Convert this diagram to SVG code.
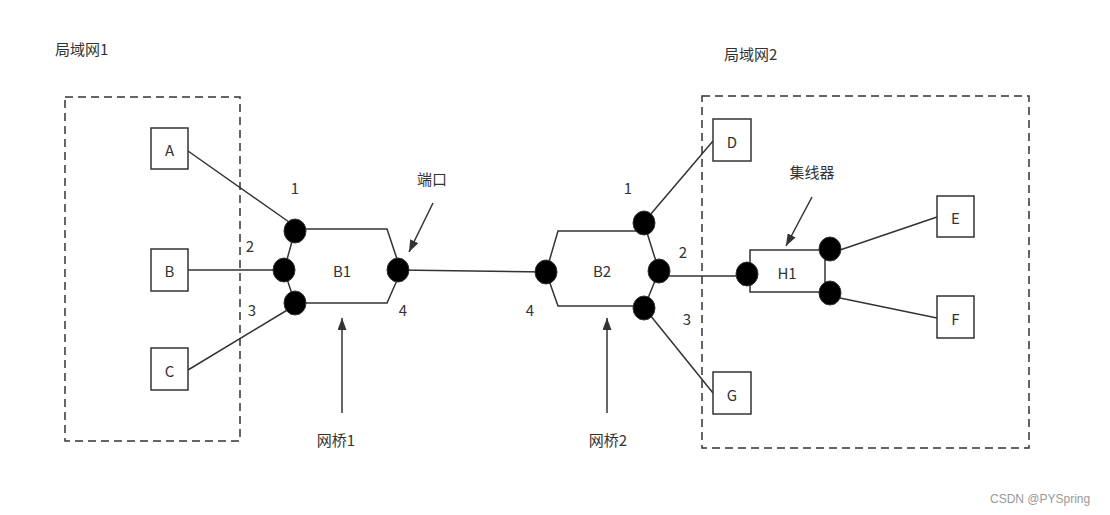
<svg xmlns="http://www.w3.org/2000/svg" width="1110" height="515" viewBox="0 0 1110 515">
<defs>
<marker id="arr" markerWidth="12" markerHeight="9" refX="12" refY="4.5" orient="auto" markerUnits="userSpaceOnUse" viewBox="0 0 12 9">
<path d="M0,0 L12,4.5 L0,9 z" fill="#333"/>
</marker>
<style>
text{font-family:"Noto Sans CJK SC","Liberation Sans",sans-serif;font-size:15px;fill:#333}
.lbl{text-anchor:middle;dominant-baseline:central}
.box{fill:#fff;stroke:#333;stroke-width:1.5}
.dash{fill:none;stroke:#333;stroke-width:1.5;stroke-dasharray:8 5}
.ln{fill:none;stroke:#333;stroke-width:1.5}
.port{fill:#000;stroke:#333;stroke-width:1}
.arrow{fill:none;stroke:#333;stroke-width:1.5;marker-end:url(#arr)}
</style>
</defs>
<rect width="1110" height="515" fill="#fff"/>
<g id="lan1"><rect class="dash" x="65" y="97" width="175" height="344"/><text x="55" y="55">局域网1</text></g>
<g id="lan2"><rect class="dash" x="702" y="96" width="327" height="352"/><text x="724" y="60">局域网2</text></g>
<g id="connectors">
<line class="ln" x1="188" y1="151" x2="289" y2="222"/>
<line class="ln" x1="188" y1="270" x2="284" y2="270"/>
<line class="ln" x1="188" y1="370" x2="289" y2="309"/>
<line class="ln" x1="398" y1="270" x2="546" y2="272"/>
<line class="ln" x1="650" y1="215" x2="713" y2="141"/>
<line class="ln" x1="659" y1="276" x2="747" y2="276"/>
<line class="ln" x1="650" y1="315" x2="713" y2="393"/>
<line class="ln" x1="840" y1="250" x2="937" y2="217"/>
<line class="ln" x1="840" y1="298" x2="937" y2="318"/>
<line class="arrow" x1="433" y1="203" x2="409" y2="252"/>
<line class="arrow" x1="812" y1="197" x2="786" y2="246"/>
<line class="arrow" x1="342" y1="413" x2="342" y2="318"/>
<line class="arrow" x1="607" y1="413" x2="607" y2="318"/>
</g>
<g id="A"><rect class="box" x="151" y="128" width="37" height="41"/><text class="lbl" x="169.5" y="149">A</text></g>
<g id="B"><rect class="box" x="151" y="249" width="37" height="42"/><text class="lbl" x="169.5" y="270">B</text></g>
<g id="C"><rect class="box" x="151" y="348" width="37" height="42"/><text class="lbl" x="169.5" y="370">C</text></g>
<g id="D"><rect class="box" x="713" y="119" width="38" height="42"/><text class="lbl" x="732" y="141">D</text></g>
<g id="E"><rect class="box" x="937" y="196" width="37" height="41"/><text class="lbl" x="955.5" y="217">E</text></g>
<g id="F"><rect class="box" x="937" y="296" width="37" height="42"/><text class="lbl" x="955.5" y="318">F</text></g>
<g id="G"><rect class="box" x="713" y="372" width="38" height="42"/><text class="lbl" x="732" y="394">G</text></g>
<g id="B1">
<path class="ln" d="M295,229 L387,229 L398,262 M398,278 L387,303 L295,303 M295,231 L284,270 L295,303"/>
<ellipse class="port" cx="295" cy="231" rx="11" ry="12"/>
<ellipse class="port" cx="284" cy="270" rx="11" ry="12"/>
<ellipse class="port" cx="295" cy="303" rx="11" ry="12"/>
<ellipse class="port" cx="398" cy="270" rx="11" ry="12"/>
<text class="lbl" x="342" y="270">B1</text>
<text class="lbl" x="295" y="187">1</text>
<text class="lbl" x="250" y="245">2</text>
<text class="lbl" x="252" y="309">3</text>
<text class="lbl" x="403" y="309">4</text>
</g>
<g id="B2">
<path class="ln" d="M644,231 L558,231 L546,272 L558,306 L644,306 M644,223 L659,271 L644,308"/>
<ellipse class="port" cx="546" cy="272" rx="11" ry="12"/>
<ellipse class="port" cx="644" cy="223" rx="11" ry="12"/>
<ellipse class="port" cx="659" cy="271" rx="11" ry="12"/>
<ellipse class="port" cx="644" cy="308" rx="11" ry="12"/>
<text class="lbl" x="602" y="270">B2</text>
<text class="lbl" x="628" y="187">1</text>
<text class="lbl" x="683" y="251">2</text>
<text class="lbl" x="687" y="318">3</text>
<text class="lbl" x="530" y="309">4</text>
</g>
<g id="H1">
<path class="ln" d="M830,250 L750,250 L750,292 L830,292 M825,250 L825,293"/>
<ellipse class="port" cx="747" cy="274" rx="11" ry="12"/>
<ellipse class="port" cx="830" cy="249" rx="11" ry="12"/>
<ellipse class="port" cx="830" cy="293" rx="11" ry="12"/>
<text class="lbl" x="787" y="272">H1</text>
</g>
<g id="labels">
<text class="lbl" x="432" y="178">端口</text>
<text class="lbl" x="812" y="171">集线器</text>
<text class="lbl" x="336" y="439">网桥1</text>
<text class="lbl" x="608" y="439">网桥2</text>
<text x="990" y="503" style="font-size:12px;fill:#999;font-family:'Liberation Sans',sans-serif">CSDN @PYSpring</text>
</g>
</svg>
